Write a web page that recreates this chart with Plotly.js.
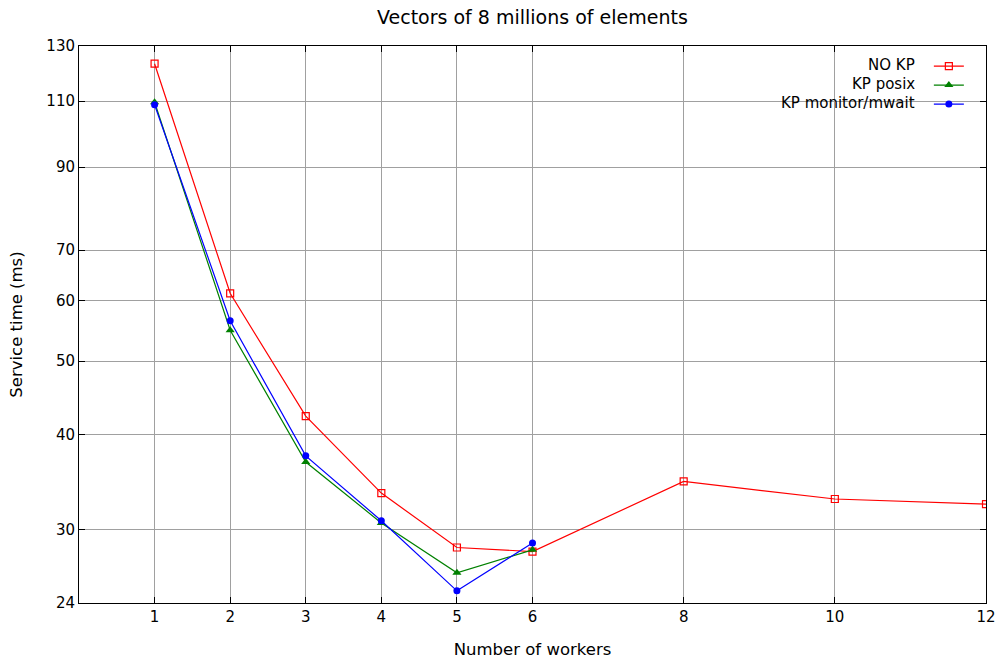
<!DOCTYPE html>
<html>
<head>
<meta charset="utf-8">
<script src="https://cdn.plot.ly/plotly-3.0.1.min.js"></script>
<style>html,body{margin:0;padding:0;background:#fff;}#chart{width:997px;height:659px;}</style>
</head>
<body>
<div id="chart"></div>
<script>
const workersNoKP = [1, 2, 3, 4, 5, 6, 8, 10, 12];
const noKP = [123.2, 61.4, 42.3, 33.5, 28.4, 28.05, 34.7, 32.9, 32.4];
const workersKP = [1, 2, 3, 4, 5, 6];
const kpPosix = [109.6, 54.9, 36.8, 30.6, 26.3, 28.2];
const kpMonitor = [108.8, 56.5, 37.5, 30.8, 24.9, 28.8];
const seriesNames = ["NO KP", "KP posix", "KP monitor/mwait"];
const xTicks = [1, 2, 3, 4, 5, 6, 8, 10, 12];
const yTicks = [24, 30, 40, 50, 60, 70, 90, 110, 130];

const font = "DejaVu Sans, Liberation Sans, sans-serif";
const traces = [
  {x: workersNoKP, y: noKP, name: "", mode: "lines+markers",
   line: {color: "#ff0000", width: 1.2},
   marker: {symbol: "square-open", size: 7, color: "#ff0000", line: {width: 1.2}}},
  {x: workersKP, y: kpPosix, name: "", mode: "lines+markers",
   line: {color: "#008000", width: 1.2},
   marker: {symbol: "triangle-up", size: 8, color: "#008000"}},
  {x: workersKP, y: kpMonitor, name: "", mode: "lines+markers",
   line: {color: "#0000ff", width: 1.2},
   marker: {symbol: "circle", size: 7, color: "#0000ff"}}
];
const axisCommon = {
  showline: true, linecolor: "#000", linewidth: 1, mirror: "allticks",
  ticks: "inside", ticklen: 6, tickcolor: "#000", tickwidth: 1,
  showgrid: true, gridcolor: "#a0a0a0", gridwidth: 1, zeroline: false,
  tickfont: {family: font, size: 15, color: "#000"}
};
// legend labels as right-aligned text (gnuplot-style key)
const legendRowsY = [0.9665, 0.9325, 0.8985];
const annotations = seriesNames.map((n, i) => ({
  text: n, xref: "paper", yref: "paper", x: 0.924, y: legendRowsY[i],
  xanchor: "right", yanchor: "middle", showarrow: false,
  font: {family: font, size: 15, color: "#000"}
}));
const layout = {
  width: 997, height: 659,
  margin: {l: 79, r: 11, t: 46, b: 56},
  paper_bgcolor: "#fff", plot_bgcolor: "#fff",
  title: {text: "Vectors of 8 millions of elements", x: 0.534, xanchor: "center", y: 0.974, yanchor: "middle",
          font: {family: font, size: 19, color: "#000"}},
  xaxis: Object.assign({}, axisCommon, {
    range: [0, 12], tickmode: "array", tickvals: xTicks, ticktext: xTicks.map(String),
    title: {text: "Number of workers", font: {family: font, size: 16.5, color: "#000"}, standoff: 18}
  }),
  yaxis: Object.assign({}, axisCommon, {
    type: "log", range: [Math.log10(24), Math.log10(130)],
    tickmode: "array", tickvals: yTicks, ticktext: yTicks.map(String),
    title: {text: "Service time (ms)", font: {family: font, size: 16.5, color: "#000"}, standoff: 19}
  }),
  shapes: [{type: "rect", xref: "paper", yref: "paper", x0: 0.773, x1: 0.988, y0: 0.883, y1: 0.980,
            fillcolor: "#fff", line: {width: 0}, layer: "between"}],
  annotations: annotations,
  showlegend: true,
  legend: {x: 0.937, xanchor: "left", y: 0.990, yanchor: "top", bgcolor: "rgba(0,0,0,0)",
           font: {family: font, size: 12, color: "#000"}, tracegroupgap: 0, borderwidth: 0},
};
Plotly.newPlot("chart", traces, layout, {displayModeBar: false, staticPlot: true});
</script>
</body>
</html>
